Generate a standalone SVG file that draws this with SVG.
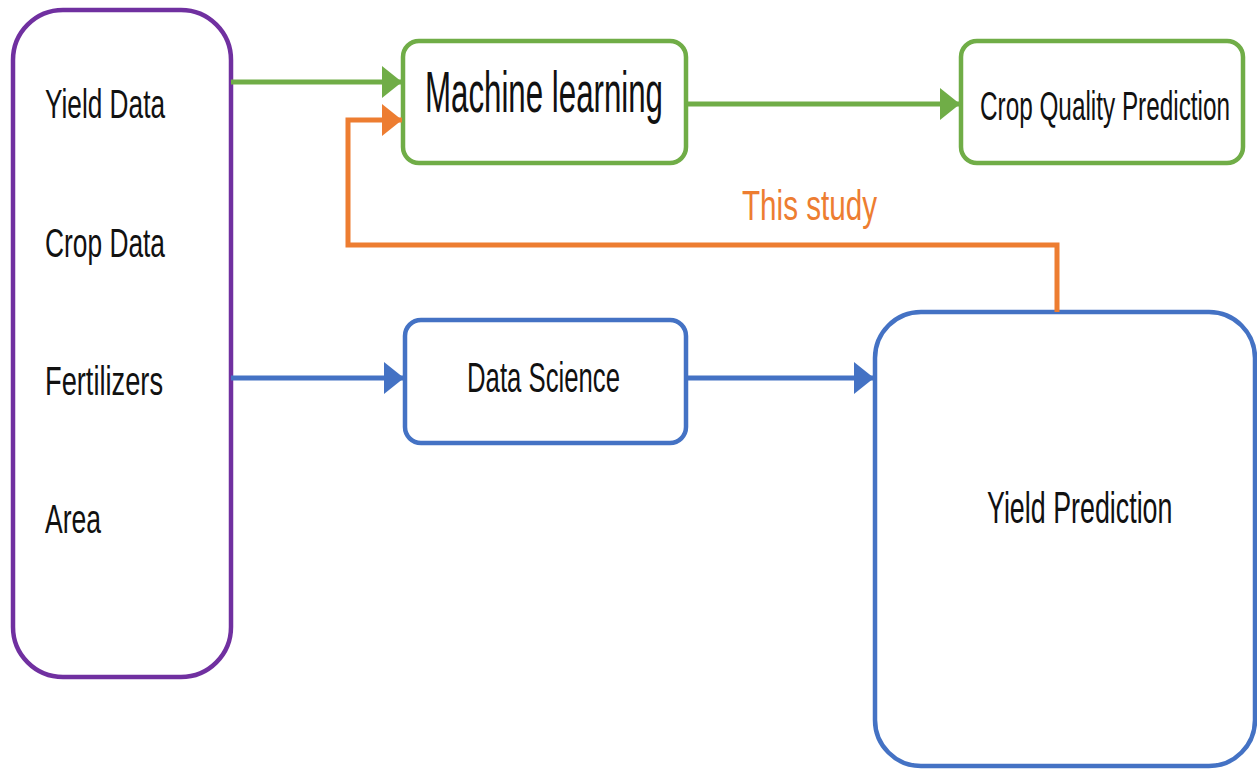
<svg xmlns="http://www.w3.org/2000/svg" width="1257" height="769" viewBox="0 0 1257 769">
<style>
  .t { font-family: "Liberation Sans", Arial, sans-serif; fill: #111; }
  .box { fill: #fff; stroke-width: 4.5; }
  .g { stroke: #70AD47; }
  .b { stroke: #4472C4; }
  .o { stroke: #ED7D31; }
  .p { stroke: #7030A0; }
  .conn { fill: none; stroke-width: 5; }
</style>
<defs>
  <marker id="ag" markerUnits="userSpaceOnUse" markerWidth="22" markerHeight="32" refX="20" refY="16" orient="auto">
    <path d="M0,0 L20,16 L0,32 Z" fill="#70AD47"/>
  </marker>
  <marker id="ab" markerUnits="userSpaceOnUse" markerWidth="22" markerHeight="32" refX="20" refY="16" orient="auto">
    <path d="M0,0 L20,16 L0,32 Z" fill="#4472C4"/>
  </marker>
  <marker id="ao" markerUnits="userSpaceOnUse" markerWidth="22" markerHeight="32" refX="20" refY="16" orient="auto">
    <path d="M0,0 L20,16 L0,32 Z" fill="#ED7D31"/>
  </marker>
</defs>
<rect width="1257" height="769" fill="#fff"/>

<g id="inputs">
  <rect class="box p" x="13" y="10" width="218" height="667" rx="50" ry="50"/>
  <text class="t" x="45" y="118" font-size="40" textLength="120" lengthAdjust="spacingAndGlyphs">Yield Data</text>
  <text class="t" x="45" y="257" font-size="40" textLength="120" lengthAdjust="spacingAndGlyphs">Crop Data</text>
  <text class="t" x="45" y="395" font-size="40" textLength="118" lengthAdjust="spacingAndGlyphs">Fertilizers</text>
  <text class="t" x="45" y="533" font-size="40" textLength="56" lengthAdjust="spacingAndGlyphs">Area</text>
</g>

<g id="machine-learning">
  <rect class="box g" x="403" y="41" width="283" height="122" rx="16" ry="16"/>
  <text class="t" x="425" y="112" font-size="58" textLength="238" lengthAdjust="spacingAndGlyphs">Machine learning</text>
</g>

<g id="crop-quality">
  <rect class="box g" x="961" y="41" width="282" height="122" rx="16" ry="16"/>
  <text class="t" transform="translate(980,120) scale(0.608,1)" font-size="40">Crop Quality Prediction</text>
</g>

<g id="data-science">
  <rect class="box b" x="405" y="320" width="281" height="123" rx="16" ry="16"/>
  <text class="t" x="467" y="392" font-size="42" textLength="153" lengthAdjust="spacingAndGlyphs">Data Science</text>
</g>

<g id="yield-prediction">
  <rect class="box b" x="875" y="312" width="380" height="454" rx="46" ry="46"/>
  <text class="t" transform="translate(987,523) scale(0.61,1)" font-size="44">Yield Prediction</text>
</g>

<g id="connectors">
  <path class="conn g" d="M231,82 L402,82" marker-end="url(#ag)"/>
  <path class="conn g" d="M686,104 L960,104" marker-end="url(#ag)"/>
  <path class="conn b" d="M231,378 L404,378" marker-end="url(#ab)"/>
  <path class="conn b" d="M686,378 L874,378" marker-end="url(#ab)"/>
  <path class="conn o" d="M1057,312 L1057,245 L348,245 L348,120 L402,120" marker-end="url(#ao)"/>
  <text x="742" y="220" font-family="Liberation Sans, Arial, sans-serif" font-size="42" fill="#ED7D31" textLength="135" lengthAdjust="spacingAndGlyphs">This study</text>
</g>
</svg>
